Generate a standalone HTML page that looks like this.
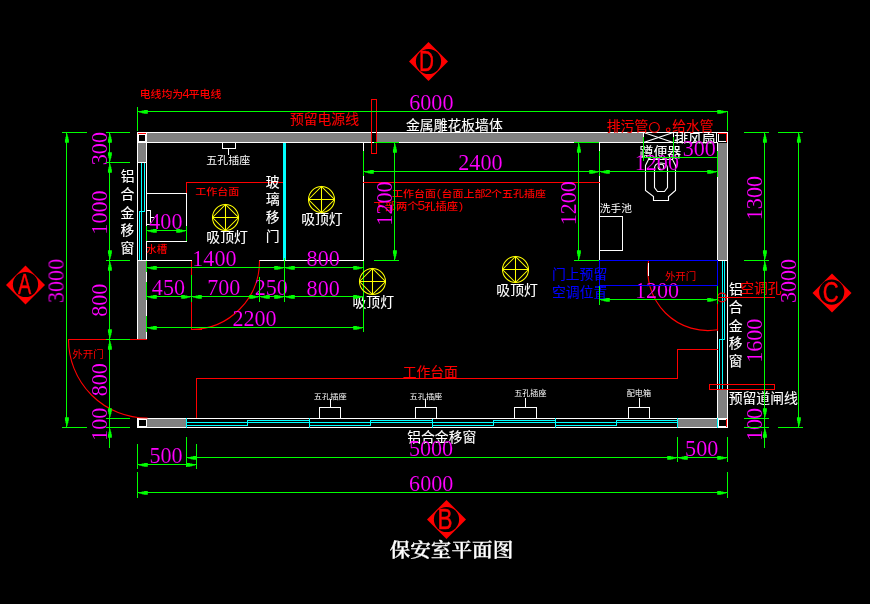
<!DOCTYPE html>
<html lang="zh-CN">
<head>
<meta charset="utf-8">
<title>保安室平面图</title>
<style>
html,body{margin:0;padding:0;background:#000;overflow:hidden}
svg{display:block}
.geo{shape-rendering:crispEdges}
text{font-family:"Liberation Sans","Noto Sans CJK SC",sans-serif;font-weight:400}
text.big{stroke:currentColor;stroke-width:.12px}
text.dim{font-family:"Liberation Serif","Noto Serif CJK SC",serif;stroke:#000;stroke-width:.12px}
.top text{stroke:#f00;stroke-width:.5px}
text.ttl{font-family:"Liberation Serif","Noto Serif CJK SC",serif;stroke:#fff;stroke-width:.25px}
text.w5{font-weight:500}
text.w7{font-weight:600}
</style>
</head>
<body>
<svg width="870" height="604" viewBox="0 0 870 604">
<defs><clipPath id="cf"><rect x="670" y="125" width="50" height="18.6"/></clipPath></defs>
<rect width="870" height="604" fill="#000"/>
<g class="geo">
<path fill="#808080" d="M147 133h496v9h-496zM138 143h8v19h-8zM138 261h8v78h-8zM718 143h9v117h-9zM718 390h9v28h-9zM147 419h39v8h-39zM678 419h39v8h-39z"/>
<path fill="#000000" d="M372 133h4v9h-4z"/>
<path fill="#ffffff" d="M137 132h591v1h-591zM146 142h572v1h-572zM137 132h1v208h-1zM146 142h1v198h-1zM137 162h10v1h-10zM137 260h10v1h-10zM727 132h1v296h-1zM717 142h1v286h-1zM717 260h11v1h-11zM717 389h11v1h-11zM137 418h591v1h-591zM137 427h591v1h-591zM137 417h1v11h-1z"/>
<path fill="#000000" d="M138 134h8v8h-8z"/>
<path fill="#ffffff" d="M138 134h8v1h-8zM138 141h8v1h-8zM138 134h1v8h-1zM145 134h1v8h-1zM146 132h1v11h-1zM137 142h10v1h-10z"/>
<path fill="#ff0000" d="M138 133h8v1h-8z"/>
<path fill="#000000" d="M719 134h7v7h-7z"/>
<path fill="#ffffff" d="M718 133h1v9h-1zM718 141h9v1h-9z"/>
<path fill="#ff0000" d="M718 133h9v1h-9zM726 133h1v9h-1z"/>
<path fill="#000000" d="M138 419h9v8h-9z"/>
<path fill="#ffffff" d="M138 419h9v1h-9zM138 426h9v1h-9zM138 419h1v8h-1zM146 419h1v8h-1z"/>
<path fill="#000000" d="M718 419h9v8h-9z"/>
<path fill="#ffffff" d="M718 419h9v1h-9zM718 426h9v1h-9zM718 419h1v8h-1zM726 419h1v8h-1z"/>
<path fill="#ff0000" d="M726 419h1v8h-1z"/>
<path fill="#ffffff" d="M643 132h1v5h-1zM673 132h1v5h-1zM716 133h1v9h-1z"/>
<path fill="#00ffff" d="M141 163h1v49h-1zM144 163h1v49h-1zM139 211h6v1h-6zM139 211h1v49h-1zM141 211h1v49h-1zM722 261h1v79h-1zM724 261h1v79h-1zM719 339h6v1h-6zM719 339h1v50h-1zM722 339h1v50h-1zM186 422h62v1h-62zM186 425h62v1h-62zM247 420h1v6h-1zM247 420h63v1h-63zM247 422h63v1h-63zM309 422h62v1h-62zM309 425h62v1h-62zM370 420h1v6h-1zM370 420h63v1h-63zM370 422h63v1h-63zM432 422h62v1h-62zM432 425h62v1h-62zM493 420h1v6h-1zM493 420h63v1h-63zM493 422h63v1h-63zM555 422h62v1h-62zM555 425h62v1h-62zM616 420h1v6h-1zM616 420h62v1h-62zM616 422h62v1h-62zM186 418h1v10h-1zM309 418h1v10h-1zM432 418h1v10h-1zM555 418h1v10h-1zM677 418h1v10h-1zM717 418h1v10h-1zM283 143h3v118h-3z"/>
<path fill="#ffffff" d="M363 143h1v118h-1zM146 260h46v1h-46zM259 260h105v1h-105zM599 143h1v118h-1zM146 193h41v1h-41zM146 241h41v1h-41zM146 193h1v49h-1zM186 193h1v49h-1zM150 210h1v15h-1zM146 224h5v1h-5zM146 210h5v1h-5zM150 217h4v1h-4zM599 216h24v1h-24zM599 250h24v1h-24zM599 216h1v35h-1zM622 216h1v35h-1zM222 142h14v1h-14zM222 148h14v1h-14zM222 142h1v7h-1zM235 142h1v7h-1zM228 148h1v7h-1zM319 407h22v1h-22zM319 418h22v1h-22zM319 407h1v12h-1zM340 407h1v12h-1zM330 399h1v9h-1zM415 407h22v1h-22zM415 418h22v1h-22zM415 407h1v12h-1zM436 407h1v12h-1zM425 399h1v9h-1zM514 407h23v1h-23zM514 418h23v1h-23zM514 407h1v12h-1zM536 407h1v12h-1zM525 398h1v10h-1zM628 407h22v1h-22zM628 418h22v1h-22zM628 407h1v12h-1zM649 407h1v12h-1zM639 398h1v10h-1z"/>
<path fill="#ff0000" d="M186 182h97v1h-97zM186 182h1v11h-1zM363 182h237v1h-237zM677 349h41v1h-41zM677 349h1v30h-1zM196 378h482v1h-482zM196 378h1v40h-1zM371 99h6v1h-6zM371 153h6v1h-6zM371 99h1v55h-1zM376 99h1v55h-1zM709 384h66v1h-66zM709 389h66v1h-66zM709 384h1v6h-1zM774 384h1v6h-1zM717 297h58v1h-58zM191 261h1v69h-1zM191 329h11v1h-11zM68 339h79v1h-79zM717 301h1v30h-1z"/>
</g>
<g class="smooth" stroke-width="1.1" stroke-linecap="square">
<line x1="643.5" y1="132.5" x2="673.5" y2="142.5" stroke="#ffffff"/>
<line x1="643.5" y1="142.5" x2="673.5" y2="132.5" stroke="#ffffff"/>
<path d="M648.5 159.5L645.5 165.5V190.5L653.5 196.5V200.5H668.5V196.5L675.5 190.5V165.5L672.5 159.5z" stroke="#ffffff" fill="none"/>
<path d="M654.5 187.5V168.5Q654.5 163 661 163Q667.5 163 667.5 168.5V187.5L664.5 191.5H657.5z" stroke="#ffffff" fill="none"/>
<circle cx="661" cy="167" r="2.8" stroke="#ffffff" fill="none"/>
<circle cx="722" cy="297.5" r="4.4" stroke="#ff0000" fill="none"/>
<circle cx="654.4" cy="127.4" r="4.9" stroke="#ff0000" fill="none"/>
<circle cx="668.2" cy="129.8" r="1.8" stroke="#ff0000" fill="none"/>
<path d="M191.5 329.5 A68.5 68.5 0 0 0 259.5 261" stroke="#ff0000" fill="none"/>
<path d="M68.5 339.5 A78.5 78.5 0 0 0 147 418" stroke="#ff0000" fill="none"/>
<path d="M717.5 329.8 A60.2 60.2 0 0 1 648.5 261" stroke="#ff0000" fill="none"/>
</g>
<g class="lbl" style="will-change:transform">
<text class="sans big" font-size="13.3" fill="#ffffff" color="#ffffff" transform="translate(406.06 130.32) scale(1.04 1)">金属雕花板墙体</text>
<text class="sans big" font-size="13.3" fill="#ffffff" color="#ffffff" transform="translate(407.22 442.14) scale(1.04 1)">铝合金移窗</text>
<text class="sans big" font-size="13.3" fill="#ffffff" color="#ffffff" transform="translate(728.7 403.34) scale(1.04 1)">预留道闸线</text>
<text class="sans big" font-size="13.3" fill="#ffffff" color="#ffffff" transform="translate(639.62 156.5) scale(1.04 1)">蹲便器</text>
<g clip-path="url(#cf)"><text class="sans big" font-size="13.3" fill="#ffffff" color="#ffffff" transform="translate(674.17 143.57) scale(1.04 1)">排风扇</text></g>
<text class="sans big" font-size="13.3" fill="#ffffff" color="#ffffff" transform="translate(206.32 242.37) scale(1.04 1)">吸顶灯</text>
<text class="sans big" font-size="13.3" fill="#ffffff" color="#ffffff" transform="translate(301.22 224.32) scale(1.04 1)">吸顶灯</text>
<text class="sans big" font-size="13.3" fill="#ffffff" color="#ffffff" transform="translate(352.52 306.62) scale(1.04 1)">吸顶灯</text>
<text class="sans big" font-size="13.3" fill="#ffffff" color="#ffffff" transform="translate(496.37 294.72) scale(1.04 1)">吸顶灯</text>
<text class="sans big" font-size="13.3" fill="#ffffff" color="#ffffff" transform="translate(120.86 180.82) scale(1.04 1)">铝</text>
<text class="sans big" font-size="13.3" fill="#ffffff" color="#ffffff" transform="translate(120.52 199.09) scale(1.04 1)">合</text>
<text class="sans big" font-size="13.3" fill="#ffffff" color="#ffffff" transform="translate(120.55 217.52) scale(1.04 1)">金</text>
<text class="sans big" font-size="13.3" fill="#ffffff" color="#ffffff" transform="translate(120.62 235.12) scale(1.04 1)">移</text>
<text class="sans big" font-size="13.3" fill="#ffffff" color="#ffffff" transform="translate(120.55 253.09) scale(1.04 1)">窗</text>
<text class="sans big" font-size="13.3" fill="#ffffff" color="#ffffff" transform="translate(729.06 294.02) scale(1.04 1)">铝</text>
<text class="sans big" font-size="13.3" fill="#ffffff" color="#ffffff" transform="translate(728.72 312.09) scale(1.04 1)">合</text>
<text class="sans big" font-size="13.3" fill="#ffffff" color="#ffffff" transform="translate(728.75 330.52) scale(1.04 1)">金</text>
<text class="sans big" font-size="13.3" fill="#ffffff" color="#ffffff" transform="translate(728.82 348.32) scale(1.04 1)">移</text>
<text class="sans big" font-size="13.3" fill="#ffffff" color="#ffffff" transform="translate(728.75 366.39) scale(1.04 1)">窗</text>
<text class="sans big" font-size="13.3" fill="#ffffff" color="#ffffff" transform="translate(265.72 187) scale(1.04 1)">玻</text>
<text class="sans big" font-size="13.3" fill="#ffffff" color="#ffffff" transform="translate(265.89 203.89) scale(1.04 1)">璃</text>
<text class="sans big" font-size="13.3" fill="#ffffff" color="#ffffff" transform="translate(265.82 222.22) scale(1.04 1)">移</text>
<text class="sans big" font-size="13.3" fill="#ffffff" color="#ffffff" transform="translate(265.72 240.7) scale(1.04 1)">门</text>
<text class="sans big" font-size="13.3" fill="#ff0000" color="#ff0000" transform="translate(289.9 124.1) scale(1.04 1)">预留电源线</text>
<text class="sans big" font-size="13.3" fill="#ff0000" color="#ff0000" transform="translate(606.79 130.84) scale(1.04 1)">排污管</text>
<text class="sans big" font-size="13.3" fill="#ff0000" color="#ff0000" transform="translate(672.21 130.84) scale(1.04 1)">给水管</text>
<text class="sans big" font-size="13.3" fill="#ff0000" color="#ff0000" transform="translate(402.64 376.79) scale(1.04 1)">工作台面</text>
<text class="sans big" font-size="13.3" fill="#ff0000" color="#ff0000" transform="translate(740.14 293.09) scale(1.04 1)">空调孔</text>
<text class="sans big" font-size="13.3" fill="#0000ff" color="#0000ff" transform="translate(551.98 279.1) scale(1.04 1)">门上预留</text>
<text class="sans big" font-size="13.3" fill="#0000ff" color="#0000ff" transform="translate(552.01 297.24) scale(1.04 1)">空调位置</text>
<text class="ttl w7" font-size="19.28" fill="#ffffff" color="#ffffff" transform="translate(389.64 556.64) scale(1.07 1)">保安室平面图</text>
<text class="sans" font-size="10.16" fill="#ffffff" transform="translate(206.26 163.89) scale(1.08 1)" x="0 10.16 20.32 30.48">五孔插座</text>
<text class="sans" font-size="10.22" fill="#ffffff" transform="translate(599.87 211.88) scale(1.05 1)" x="0 10.22 20.43">洗手池</text>
<text class="sans" font-size="7.27" fill="#ffffff" transform="translate(313.86 398.73) scale(1.13 1)" x="0 7.27 14.55 21.82">五孔插座</text>
<text class="sans" font-size="7.27" fill="#ffffff" transform="translate(409.46 398.73) scale(1.13 1)" x="0 7.27 14.55 21.82">五孔插座</text>
<text class="sans" font-size="7.59" fill="#ffffff" transform="translate(514.27 396.1) scale(1.06 1)" x="0 7.59 15.19 22.78">五孔插座</text>
<text class="sans" font-size="7.59" fill="#ffffff" transform="translate(626.67 396.1) scale(1.07 1)" x="0 7.59 15.19">配电箱</text>
<text class="sans w5" font-size="9.89" fill="#ff0000" transform="translate(139.67 97.96) scale(1.1 1)" x="0 9.89 19.79 29.68 38.69 44.52 54.41 64.31">电线均为<tspan font-size="1.22em">4</tspan>平电线</text>
<text class="sans w5" font-size="9.37" fill="#ff0000" transform="translate(195.16 194.71) scale(1.18 1)" x="0 9.37 18.74 28.11">工作台面</text>
<text class="sans w5" font-size="9.47" fill="#ff0000" transform="translate(392.06 197) scale(1.16 1)" x="0 9.47 18.95 28.42 38.53 42.63 52.11 61.58 71.05 79.68 85.26 94.74 104.21 113.68 123.16">工作台面<tspan font-size="1.1em">(</tspan>台面上部<tspan font-size="1.22em">2</tspan>个五孔插座</text>
<text class="sans w5" font-size="9.74" fill="#ff0000" transform="translate(373.46 210.47) scale(1.16 1)" x="0 9.74 19.47 29.21 38.07 43.81 53.54 63.28 73.67">下部两个<tspan font-size="1.22em">5</tspan>孔插座<tspan font-size="1.1em">)</tspan></text>
<text class="sans w5" font-size="10" fill="#ff0000" transform="translate(146.28 252.65) scale(1.05 1)" x="0 10">水槽</text>
<text class="sans" font-size="10.16" fill="#ff0000" transform="translate(72.18 358.04) scale(1.04 1)" x="0 10.16 20.32">外开门</text>
<text class="sans" font-size="10.59" fill="#ff0000" transform="translate(664.88 280.1) scale(0.99 1)" x="0 10.59 21.18">外开门</text>
</g>
<g class="dims" style="will-change:transform">
<text class="dim" font-size="22.8" fill="#ff00ff" color="#ff00ff" transform="translate(409.23 109.97) scale(0.97 1)">6000</text>
<text class="dim" font-size="22.8" fill="#ff00ff" color="#ff00ff" transform="translate(409.08 490.67) scale(0.97 1)">6000</text>
<text class="dim" font-size="22.8" fill="#ff00ff" color="#ff00ff" transform="translate(408.91 455.92) scale(0.97 1)">5000</text>
<text class="dim" font-size="22.8" fill="#ff00ff" color="#ff00ff" transform="translate(149.39 462.82) scale(0.97 1)">500</text>
<text class="dim" font-size="22.8" fill="#ff00ff" color="#ff00ff" transform="translate(685.09 455.67) scale(0.97 1)">500</text>
<text class="dim" font-size="22.8" fill="#ff00ff" color="#ff00ff" transform="translate(458.28 170.17) scale(0.97 1)">2400</text>
<text class="dim" font-size="22.8" fill="#ff00ff" color="#ff00ff" transform="translate(192.28 265.87) scale(0.97 1)">1400</text>
<text class="dim" font-size="22.8" fill="#ff00ff" color="#ff00ff" transform="translate(306.61 266.07) scale(0.97 1)">800</text>
<text class="dim" font-size="22.8" fill="#ff00ff" color="#ff00ff" transform="translate(151.83 295.07) scale(0.97 1)">450</text>
<text class="dim" font-size="22.8" fill="#ff00ff" color="#ff00ff" transform="translate(207.23 295.02) scale(0.97 1)">700</text>
<text class="dim" font-size="22.8" fill="#ff00ff" color="#ff00ff" transform="translate(254.66 295.02) scale(0.97 1)">250</text>
<text class="dim" font-size="22.8" fill="#ff00ff" color="#ff00ff" transform="translate(306.61 295.92) scale(0.97 1)">800</text>
<text class="dim" font-size="22.8" fill="#ff00ff" color="#ff00ff" transform="translate(232.43 326.07) scale(0.97 1)">2200</text>
<text class="dim" font-size="22.8" fill="#ff00ff" color="#ff00ff" transform="translate(149.28 228.92) scale(0.97 1)">400</text>
<text class="dim" font-size="22.8" fill="#ff00ff" color="#ff00ff" transform="translate(682.7 156.47) scale(0.97 1)">300</text>
<text class="dim" font-size="22.8" fill="#ff00ff" color="#ff00ff" transform="translate(634.73 170.37) scale(0.97 1)">1200</text>
<text class="dim" font-size="22.8" fill="#ff00ff" color="#ff00ff" transform="translate(634.88 298.22) scale(0.97 1)">1200</text>
<text class="dim" font-size="22.8" fill="#ff00ff" color="#ff00ff" transform="translate(106.87 165.2) rotate(-90) scale(0.97 1)">300</text>
<text class="dim" font-size="22.8" fill="#ff00ff" color="#ff00ff" transform="translate(106.87 234.67) rotate(-90) scale(0.97 1)">1000</text>
<text class="dim" font-size="22.8" fill="#ff00ff" color="#ff00ff" transform="translate(106.87 316.84) rotate(-90) scale(0.97 1)">800</text>
<text class="dim" font-size="22.8" fill="#ff00ff" color="#ff00ff" transform="translate(107.02 396.34) rotate(-90) scale(0.97 1)">800</text>
<text class="dim" font-size="22.8" fill="#ff00ff" color="#ff00ff" transform="translate(107.02 440.89) rotate(-90) scale(0.97 1)">100</text>
<text class="dim" font-size="22.8" fill="#ff00ff" color="#ff00ff" transform="translate(63.52 303.08) rotate(-90) scale(0.97 1)">3000</text>
<text class="dim" font-size="22.8" fill="#ff00ff" color="#ff00ff" transform="translate(392.22 225.67) rotate(-90) scale(0.97 1)">1200</text>
<text class="dim" font-size="22.8" fill="#ff00ff" color="#ff00ff" transform="translate(576.07 225.32) rotate(-90) scale(0.97 1)">1200</text>
<text class="dim" font-size="22.8" fill="#ff00ff" color="#ff00ff" transform="translate(762.07 220.22) rotate(-90) scale(0.97 1)">1300</text>
<text class="dim" font-size="22.8" fill="#ff00ff" color="#ff00ff" transform="translate(762.07 362.82) rotate(-90) scale(0.97 1)">1600</text>
<text class="dim" font-size="22.8" fill="#ff00ff" color="#ff00ff" transform="translate(762.02 441.04) rotate(-90) scale(0.97 1)">100</text>
<text class="dim" font-size="22.8" fill="#ff00ff" color="#ff00ff" transform="translate(795.82 303.08) rotate(-90) scale(0.97 1)">3000</text>
</g>
<g class="geo">
<path fill="#0000ff" d="M599 260h119v1h-119zM599 285h119v1h-119zM599 260h1v26h-1zM717 260h1v26h-1z"/>
<path fill="#00ff00" d="M137 107h1v24h-1zM727 111h1v20h-1zM137 111h591v1h-591zM137 472h1v26h-1zM727 472h1v26h-1zM137 492h591v1h-591zM137 444h1v25h-1zM186 437h1v30h-1zM196 444h1v25h-1zM137 464h60v1h-60zM186 457h542v1h-542zM677 437h1v25h-1zM727 437h1v25h-1zM66 132h1v296h-1zM62 132h25v1h-25zM62 427h25v1h-25zM109 132h1v316h-1zM106 132h24v1h-24zM106 162h24v1h-24zM106 260h24v1h-24zM106 339h24v1h-24zM106 418h24v1h-24zM106 427h24v1h-24zM764 132h1v316h-1zM798 132h1v296h-1zM744 132h25v1h-25zM744 260h25v1h-25zM744 418h25v1h-25zM744 427h25v1h-25zM778 132h25v1h-25zM778 427h25v1h-25zM146 267h218v1h-218zM146 296h218v1h-218zM146 327h218v1h-218zM146 261h1v11h-1zM146 282h1v18h-1zM146 316h1v16h-1zM363 261h1v71h-1zM191 275h1v27h-1zM259 277h1v25h-1zM284 258h1v44h-1zM146 230h41v1h-41zM146 226h1v15h-1zM186 226h1v15h-1zM363 171h355v1h-355zM363 151h1v25h-1zM599 151h1v25h-1zM717 151h1v26h-1zM394 142h1v119h-1zM374 142h25v1h-25zM374 260h25v1h-25zM578 142h1v119h-1zM574 142h25v1h-25zM574 260h25v1h-25zM643 137h1v24h-1zM673 137h1v21h-1zM643 157h75v1h-75zM599 299h119v1h-119zM599 286h1v19h-1zM717 286h1v18h-1z"/>
</g>
<g class="smooth" stroke-width="1.1" stroke-linecap="square">
<g stroke-width="1.05" stroke="#ffff00" fill="none"><circle cx="225.5" cy="217.5" r="13.0"/><path d="M212.5 217.5L225.5 204.5L238.5 217.5L225.5 230.5zM212.5 217.5H238.5M225.5 204.5V230.5"/></g>
<g stroke-width="1.05" stroke="#ffff00" fill="none"><circle cx="321.5" cy="199.5" r="13.0"/><path d="M308.5 199.5L321.5 186.5L334.5 199.5L321.5 212.5zM308.5 199.5H334.5M321.5 186.5V212.5"/></g>
<g stroke-width="1.05" stroke="#ffff00" fill="none"><circle cx="372.5" cy="281.5" r="13.0"/><path d="M359.5 281.5L372.5 268.5L385.5 281.5L372.5 294.5zM359.5 281.5H385.5M372.5 268.5V294.5"/></g>
<g stroke-width="1.05" stroke="#ffff00" fill="none"><circle cx="515.5" cy="269.5" r="13.0"/><path d="M502.5 269.5L515.5 256.5L528.5 269.5L515.5 282.5zM502.5 269.5H528.5M515.5 256.5V282.5"/></g>
<path d="M648 263h1v13h-1z" fill="#fff" shape-rendering="crispEdges"/>
</g>
<path class="arw" fill="#00ff00" d="M139.00 111.40L141.50 111.00L141.90 110.50L143.90 110.40L144.40 109.95L147.80 109.95L147.80 113.85L144.40 113.85L143.90 113.40L141.90 113.30L141.50 112.80L139.00 112.40zM726.00 111.40L723.50 111.00L723.10 110.50L721.10 110.40L720.60 109.95L717.20 109.95L717.20 113.85L720.60 113.85L721.10 113.40L723.10 113.30L723.50 112.80L726.00 112.40zM139.00 492.40L141.50 492.00L141.90 491.50L143.90 491.40L144.40 490.95L147.80 490.95L147.80 494.85L144.40 494.85L143.90 494.40L141.90 494.30L141.50 493.80L139.00 493.40zM726.00 492.40L723.50 492.00L723.10 491.50L721.10 491.40L720.60 490.95L717.20 490.95L717.20 494.85L720.60 494.85L721.10 494.40L723.10 494.30L723.50 493.80L726.00 493.40zM139.00 464.40L141.50 464.00L141.90 463.50L143.90 463.40L144.40 462.95L147.80 462.95L147.80 466.85L144.40 466.85L143.90 466.40L141.90 466.30L141.50 465.80L139.00 465.40zM195.00 464.40L192.50 464.00L192.10 463.50L190.10 463.40L189.60 462.95L186.20 462.95L186.20 466.85L189.60 466.85L190.10 466.40L192.10 466.30L192.50 465.80L195.00 465.40zM188.00 457.40L190.50 457.00L190.90 456.50L192.90 456.40L193.40 455.95L196.80 455.95L196.80 459.85L193.40 459.85L192.90 459.40L190.90 459.30L190.50 458.80L188.00 458.40zM676.00 457.40L673.50 457.00L673.10 456.50L671.10 456.40L670.60 455.95L667.20 455.95L667.20 459.85L670.60 459.85L671.10 459.40L673.10 459.30L673.50 458.80L676.00 458.40zM679.00 457.40L681.50 457.00L681.90 456.50L683.90 456.40L684.40 455.95L687.80 455.95L687.80 459.85L684.40 459.85L683.90 459.40L681.90 459.30L681.50 458.80L679.00 458.40zM726.00 457.40L723.50 457.00L723.10 456.50L721.10 456.40L720.60 455.95L717.20 455.95L717.20 459.85L720.60 459.85L721.10 459.40L723.10 459.30L723.50 458.80L726.00 458.40zM66.40 134.00L66.00 136.50L65.50 136.90L65.40 138.90L64.95 139.40L64.95 142.80L68.85 142.80L68.85 139.40L68.40 138.90L68.30 136.90L67.80 136.50L67.40 134.00zM66.40 426.00L66.00 423.50L65.50 423.10L65.40 421.10L64.95 420.60L64.95 417.20L68.85 417.20L68.85 420.60L68.40 421.10L68.30 423.10L67.80 423.50L67.40 426.00zM109.40 134.00L109.00 136.50L108.50 136.90L108.40 138.90L107.95 139.40L107.95 142.80L111.85 142.80L111.85 139.40L111.40 138.90L111.30 136.90L110.80 136.50L110.40 134.00zM109.40 161.00L109.00 158.50L108.50 158.10L108.40 156.10L107.95 155.60L107.95 152.20L111.85 152.20L111.85 155.60L111.40 156.10L111.30 158.10L110.80 158.50L110.40 161.00zM109.40 164.00L109.00 166.50L108.50 166.90L108.40 168.90L107.95 169.40L107.95 172.80L111.85 172.80L111.85 169.40L111.40 168.90L111.30 166.90L110.80 166.50L110.40 164.00zM109.40 259.00L109.00 256.50L108.50 256.10L108.40 254.10L107.95 253.60L107.95 250.20L111.85 250.20L111.85 253.60L111.40 254.10L111.30 256.10L110.80 256.50L110.40 259.00zM109.40 262.00L109.00 264.50L108.50 264.90L108.40 266.90L107.95 267.40L107.95 270.80L111.85 270.80L111.85 267.40L111.40 266.90L111.30 264.90L110.80 264.50L110.40 262.00zM109.40 338.00L109.00 335.50L108.50 335.10L108.40 333.10L107.95 332.60L107.95 329.20L111.85 329.20L111.85 332.60L111.40 333.10L111.30 335.10L110.80 335.50L110.40 338.00zM109.40 341.00L109.00 343.50L108.50 343.90L108.40 345.90L107.95 346.40L107.95 349.80L111.85 349.80L111.85 346.40L111.40 345.90L111.30 343.90L110.80 343.50L110.40 341.00zM109.40 417.00L109.00 414.50L108.50 414.10L108.40 412.10L107.95 411.60L107.95 408.20L111.85 408.20L111.85 411.60L111.40 412.10L111.30 414.10L110.80 414.50L110.40 417.00zM109.40 429.00L109.00 431.50L108.50 431.90L108.40 433.90L107.95 434.40L107.95 437.80L111.85 437.80L111.85 434.40L111.40 433.90L111.30 431.90L110.80 431.50L110.40 429.00zM764.40 134.00L764.00 136.50L763.50 136.90L763.40 138.90L762.95 139.40L762.95 142.80L766.85 142.80L766.85 139.40L766.40 138.90L766.30 136.90L765.80 136.50L765.40 134.00zM764.40 259.00L764.00 256.50L763.50 256.10L763.40 254.10L762.95 253.60L762.95 250.20L766.85 250.20L766.85 253.60L766.40 254.10L766.30 256.10L765.80 256.50L765.40 259.00zM764.40 262.00L764.00 264.50L763.50 264.90L763.40 266.90L762.95 267.40L762.95 270.80L766.85 270.80L766.85 267.40L766.40 266.90L766.30 264.90L765.80 264.50L765.40 262.00zM764.40 417.00L764.00 414.50L763.50 414.10L763.40 412.10L762.95 411.60L762.95 408.20L766.85 408.20L766.85 411.60L766.40 412.10L766.30 414.10L765.80 414.50L765.40 417.00zM764.40 429.00L764.00 431.50L763.50 431.90L763.40 433.90L762.95 434.40L762.95 437.80L766.85 437.80L766.85 434.40L766.40 433.90L766.30 431.90L765.80 431.50L765.40 429.00zM798.40 134.00L798.00 136.50L797.50 136.90L797.40 138.90L796.95 139.40L796.95 142.80L800.85 142.80L800.85 139.40L800.40 138.90L800.30 136.90L799.80 136.50L799.40 134.00zM798.40 426.00L798.00 423.50L797.50 423.10L797.40 421.10L796.95 420.60L796.95 417.20L800.85 417.20L800.85 420.60L800.40 421.10L800.30 423.10L799.80 423.50L799.40 426.00zM148.00 267.40L150.50 267.00L150.90 266.50L152.90 266.40L153.40 265.95L156.80 265.95L156.80 269.85L153.40 269.85L152.90 269.40L150.90 269.30L150.50 268.80L148.00 268.40zM283.00 267.40L280.50 267.00L280.10 266.50L278.10 266.40L277.60 265.95L274.20 265.95L274.20 269.85L277.60 269.85L278.10 269.40L280.10 269.30L280.50 268.80L283.00 268.40zM286.00 267.40L288.50 267.00L288.90 266.50L290.90 266.40L291.40 265.95L294.80 265.95L294.80 269.85L291.40 269.85L290.90 269.40L288.90 269.30L288.50 268.80L286.00 268.40zM362.00 267.40L359.50 267.00L359.10 266.50L357.10 266.40L356.60 265.95L353.20 265.95L353.20 269.85L356.60 269.85L357.10 269.40L359.10 269.30L359.50 268.80L362.00 268.40zM148.00 296.40L150.50 296.00L150.90 295.50L152.90 295.40L153.40 294.95L156.80 294.95L156.80 298.85L153.40 298.85L152.90 298.40L150.90 298.30L150.50 297.80L148.00 297.40zM190.00 296.40L187.50 296.00L187.10 295.50L185.10 295.40L184.60 294.95L181.20 294.95L181.20 298.85L184.60 298.85L185.10 298.40L187.10 298.30L187.50 297.80L190.00 297.40zM193.00 296.40L195.50 296.00L195.90 295.50L197.90 295.40L198.40 294.95L201.80 294.95L201.80 298.85L198.40 298.85L197.90 298.40L195.90 298.30L195.50 297.80L193.00 297.40zM258.00 296.40L255.50 296.00L255.10 295.50L253.10 295.40L252.60 294.95L249.20 294.95L249.20 298.85L252.60 298.85L253.10 298.40L255.10 298.30L255.50 297.80L258.00 297.40zM261.00 296.40L263.50 296.00L263.90 295.50L265.90 295.40L266.40 294.95L269.80 294.95L269.80 298.85L266.40 298.85L265.90 298.40L263.90 298.30L263.50 297.80L261.00 297.40zM283.00 296.40L280.50 296.00L280.10 295.50L278.10 295.40L277.60 294.95L274.20 294.95L274.20 298.85L277.60 298.85L278.10 298.40L280.10 298.30L280.50 297.80L283.00 297.40zM286.00 296.40L288.50 296.00L288.90 295.50L290.90 295.40L291.40 294.95L294.80 294.95L294.80 298.85L291.40 298.85L290.90 298.40L288.90 298.30L288.50 297.80L286.00 297.40zM362.00 296.40L359.50 296.00L359.10 295.50L357.10 295.40L356.60 294.95L353.20 294.95L353.20 298.85L356.60 298.85L357.10 298.40L359.10 298.30L359.50 297.80L362.00 297.40zM148.00 327.40L150.50 327.00L150.90 326.50L152.90 326.40L153.40 325.95L156.80 325.95L156.80 329.85L153.40 329.85L152.90 329.40L150.90 329.30L150.50 328.80L148.00 328.40zM362.00 327.40L359.50 327.00L359.10 326.50L357.10 326.40L356.60 325.95L353.20 325.95L353.20 329.85L356.60 329.85L357.10 329.40L359.10 329.30L359.50 328.80L362.00 328.40zM148.00 230.40L150.50 230.00L150.90 229.50L152.90 229.40L153.40 228.95L156.80 228.95L156.80 232.85L153.40 232.85L152.90 232.40L150.90 232.30L150.50 231.80L148.00 231.40zM185.00 230.40L182.50 230.00L182.10 229.50L180.10 229.40L179.60 228.95L176.20 228.95L176.20 232.85L179.60 232.85L180.10 232.40L182.10 232.30L182.50 231.80L185.00 231.40zM365.00 171.40L367.50 171.00L367.90 170.50L369.90 170.40L370.40 169.95L373.80 169.95L373.80 173.85L370.40 173.85L369.90 173.40L367.90 173.30L367.50 172.80L365.00 172.40zM598.00 171.40L595.50 171.00L595.10 170.50L593.10 170.40L592.60 169.95L589.20 169.95L589.20 173.85L592.60 173.85L593.10 173.40L595.10 173.30L595.50 172.80L598.00 172.40zM601.00 171.40L603.50 171.00L603.90 170.50L605.90 170.40L606.40 169.95L609.80 169.95L609.80 173.85L606.40 173.85L605.90 173.40L603.90 173.30L603.50 172.80L601.00 172.40zM716.00 171.40L713.50 171.00L713.10 170.50L711.10 170.40L710.60 169.95L707.20 169.95L707.20 173.85L710.60 173.85L711.10 173.40L713.10 173.30L713.50 172.80L716.00 172.40zM394.40 144.00L394.00 146.50L393.50 146.90L393.40 148.90L392.95 149.40L392.95 152.80L396.85 152.80L396.85 149.40L396.40 148.90L396.30 146.90L395.80 146.50L395.40 144.00zM394.40 259.00L394.00 256.50L393.50 256.10L393.40 254.10L392.95 253.60L392.95 250.20L396.85 250.20L396.85 253.60L396.40 254.10L396.30 256.10L395.80 256.50L395.40 259.00zM578.40 144.00L578.00 146.50L577.50 146.90L577.40 148.90L576.95 149.40L576.95 152.80L580.85 152.80L580.85 149.40L580.40 148.90L580.30 146.90L579.80 146.50L579.40 144.00zM578.40 259.00L578.00 256.50L577.50 256.10L577.40 254.10L576.95 253.60L576.95 250.20L580.85 250.20L580.85 253.60L580.40 254.10L580.30 256.10L579.80 256.50L579.40 259.00zM601.00 299.40L603.50 299.00L603.90 298.50L605.90 298.40L606.40 297.95L609.80 297.95L609.80 301.85L606.40 301.85L605.90 301.40L603.90 301.30L603.50 300.80L601.00 300.40zM716.00 299.40L713.50 299.00L713.10 298.50L711.10 298.40L710.60 297.95L707.20 297.95L707.20 301.85L710.60 301.85L711.10 301.40L713.10 301.30L713.50 300.80L716.00 300.40z"/>
<g class="smooth">
<path d="M409.0 61.5L428.5 42.0L448.0 61.5L428.5 81.0z" fill="#ff0000"/>
<circle cx="428.5" cy="61.5" r="12.6" fill="#000000"/>
<path d="M6.0 285L25.5 265.5L45.0 285L25.5 304.5z" fill="#ff0000"/>
<circle cx="25.5" cy="284.5" r="12.6" fill="#000000"/>
<path d="M427.0 519.5L446.5 500.0L466.0 519.5L446.5 539.0z" fill="#ff0000"/>
<circle cx="446.5" cy="519.5" r="12.6" fill="#000000"/>
<path d="M812.5 293L832 273.5L851.5 293L832 312.5z" fill="#ff0000"/>
<circle cx="831.7" cy="292.1" r="12.6" fill="#000000"/>
</g>
<g class="top" style="will-change:transform">
<text class="sans" font-size="29.57" fill="#ff0000" color="#ff0000" transform="translate(419 70.85) scale(0.7 1)">D</text>
<text class="sans" font-size="29.21" fill="#ff0000" color="#ff0000" transform="translate(17.95 293.9) scale(0.68 1)">A</text>
<text class="sans" font-size="29.57" fill="#ff0000" color="#ff0000" transform="translate(437.44 528.55) scale(0.76 1)">B</text>
<text class="sans" font-size="29.44" fill="#ff0000" color="#ff0000" transform="translate(822.75 302.16) scale(0.75 1)">C</text>
</g>
</svg>
</body>
</html>
